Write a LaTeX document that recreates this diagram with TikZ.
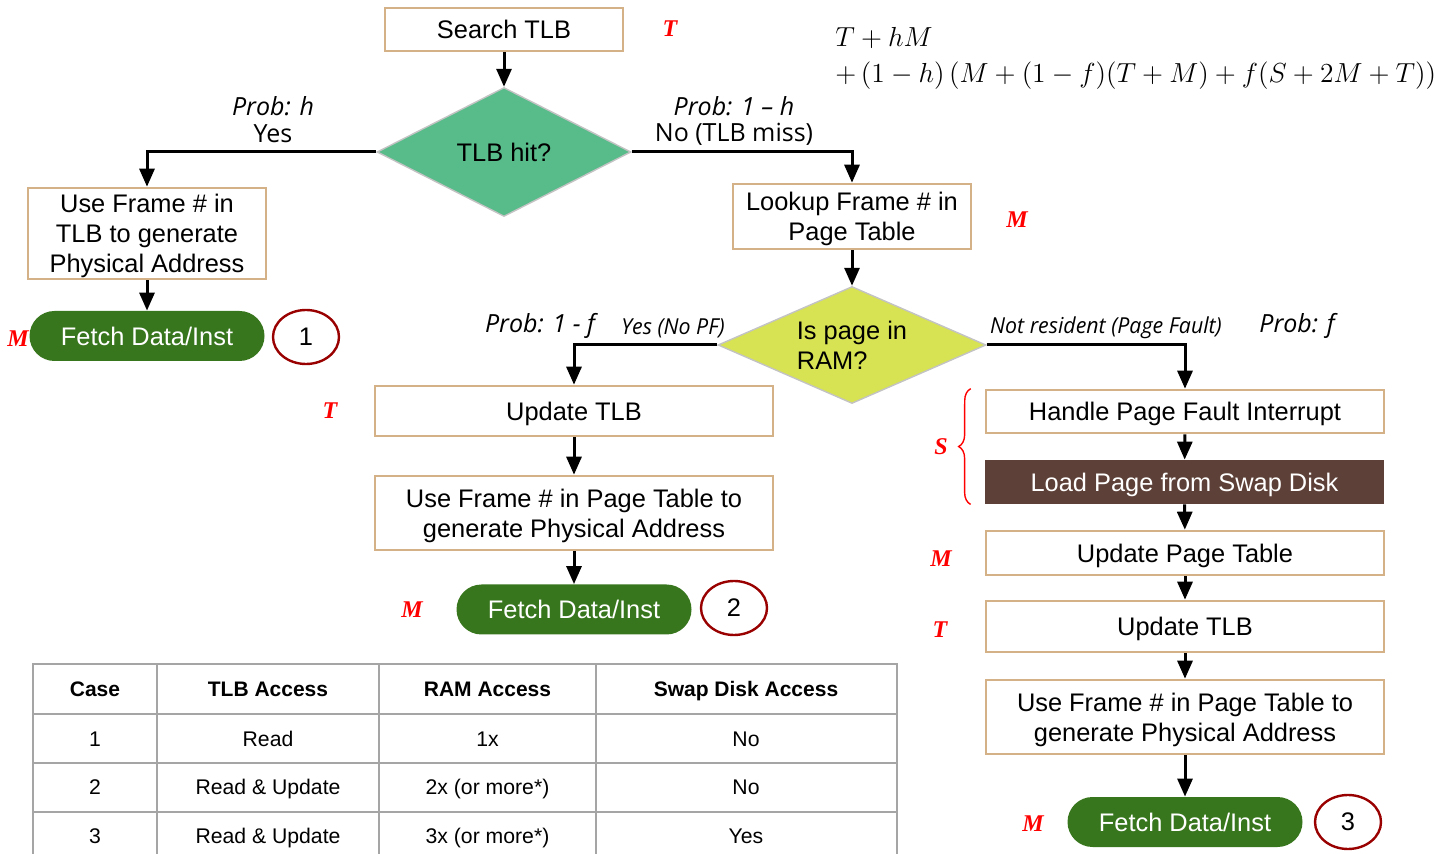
\documentclass[tikz,border=0pt]{standalone}
\usepackage{graphicx}
\usepackage[no-math]{fontspec}
\setmainfont{Liberation Sans}
\newfontfamily\osans{Open Sans}
\newfontfamily\osanscond[FakeStretch=0.97]{Open Sans}
\newfontfamily\tser{Liberation Serif}
\usetikzlibrary{shapes.geometric,arrows.meta,decorations.pathreplacing}
\definecolor{tanc}{RGB}{212,177,134}
\definecolor{hitgreen}{RGB}{87,187,138}
\definecolor{ramyellow}{RGB}{215,227,82}
\definecolor{fetchgreen}{RGB}{56,118,29}
\definecolor{diskbrown}{RGB}{93,64,55}
\definecolor{casered}{RGB}{153,0,0}
\definecolor{tblgray}{RGB}{165,165,165}
\definecolor{dgray}{RGB}{195,195,195}
\begin{document}
\begin{tikzpicture}[x=0.5pt,y=-0.5pt,
  box/.style={draw=tanc, line width=1.3pt, fill=white, inner sep=0pt, align=center, text depth=0pt, font=\fontsize{12.7}{15}\selectfont},
  fetch/.style={fill=fetchgreen, text=white, rounded corners=12.5pt, minimum width=117.5pt, minimum height=25pt, inner sep=0pt, text depth=0pt, font=\fontsize{12.7}{15}\selectfont},
  casecirc/.style={ellipse, draw=casered, line width=1.2pt, minimum width=33pt, minimum height=27pt, inner sep=0pt, font=\fontsize{12.7}{15}\selectfont},
  decision/.style={diamond, draw=dgray, line width=0.7pt, inner sep=0pt, aspect=2, font=\fontsize{12.7}{15}\selectfont},
  conn/.style={line width=1.5pt, -{Triangle[length=9pt,width=7.5pt]}},
  cost/.style={text=red, font=\tser\bfseries\itshape\fontsize{12}{14}\selectfont},
  prob/.style={font=\osans\itshape\fontsize{12.5}{15}\selectfont},
  ans/.style={font=\osans\fontsize{12.5}{15}\selectfont},
  smalllbl/.style={font=\osanscond\itshape\fontsize{11}{13}\selectfont},
  thead/.style={text depth=0pt, font=\bfseries\fontsize{10.5}{12}\selectfont},
  tcell/.style={text depth=0pt, font=\fontsize{10.6}{12}\selectfont}
]
\useasboundingbox (0,0) rectangle (1456,854);

% top
\node[box, minimum width=119pt, minimum height=21.5pt] (search) at (504,29.5) {Search TLB};
\node[cost] (cT1) at (670,29) {T};
\node[anchor=west, inner sep=0pt, font=\fontsize{12}{15.7}\selectfont] (formula) at (835,57) {\scalebox{1.147}{\begin{tabular}{@{}l@{}}$T+hM$\\$+\,(1-h)\,(M+(1-f)(T+M)+f(S+2M+T))$\end{tabular}}};

\node[decision, fill=hitgreen, minimum width=127pt, minimum height=64.5pt] (hit) at (504,152) {TLB hit?};

% left branch
\node[box, minimum width=119pt, minimum height=45.5pt] (useTLB) at (147,233.5) {Use Frame \# in\\TLB to generate\\Physical Address};
\node[cost] (cM1) at (18,339) {M};
\node[fetch] (f1) at (147,336) {Fetch Data/Inst};
\node[casecirc] (c1) at (306,337) {1};

% right branch
\node[box, minimum width=119pt, minimum height=32.5pt] (lookup) at (852,216.5) {Lookup Frame \# in\\Page Table};
\node[cost] (cM2) at (1017,220) {M};
\node[decision, fill=ramyellow, minimum width=134pt, minimum height=58.5pt, align=left] (ram) at (852,345) {Is page in\\RAM?};

% middle column
\node[box, minimum width=199pt, minimum height=25pt] (updTLB2) at (574,411) {Update TLB};
\node[cost] (cT2) at (330,411) {T};
\node[box, minimum width=199pt, minimum height=37pt] (usePT2) at (574,513) {Use Frame \# in Page Table to\\generate Physical Address};
\node[fetch] (f2) at (574,609.5) {Fetch Data/Inst};
\node[casecirc] (c2) at (734,608) {2};
\node[cost] (cM3) at (412,610) {M};

% right column
\node[box, minimum width=199pt, minimum height=21.5pt] (handle) at (1185,411.5) {Handle Page Fault Interrupt};
\node[fill=diskbrown, text=white, minimum width=199.5pt, minimum height=22pt, inner sep=0pt, text depth=0pt, font=\fontsize{12.7}{15}\selectfont] (load) at (1184.5,482) {Load Page from Swap Disk};
\node[box, minimum width=199pt, minimum height=22pt] (updPT) at (1185,553) {Update Page Table};
\node[box, minimum width=199pt, minimum height=25.5pt] (updTLB3) at (1185,626.5) {Update TLB};
\node[box, minimum width=199pt, minimum height=37pt] (usePT3) at (1185,717) {Use Frame \# in Page Table to\\generate Physical Address};
\node[fetch] (f3) at (1185,822) {Fetch Data/Inst};
\node[casecirc] (c3) at (1348,822) {3};
\node[cost] (cS) at (941,447) {S};
\node[cost] (cM4) at (941,559) {M};
\node[cost] (cT3) at (940,630) {T};
\node[cost] (cM5) at (1033,824) {M};

\draw[red, line width=0.7pt, decorate, decoration={brace, amplitude=6pt}] ([xshift=-7pt]load.south west) -- ([xshift=-7pt]handle.north west);

% branch labels
\node[prob] (lph) at (273,106) {Prob: h};
\node[ans] (lyes) at (273,134) {Yes};
\node[prob] (lp1h) at (734,106) {Prob: 1 – h};
\node[ans] (lno) at (734,134) {No (TLB miss)};
\node[prob] (lp1f) at (540,326) {Prob: 1 - f};
\node[smalllbl] (lnopf) at (673,328) {Yes (No PF)};
\node[smalllbl] (lpf) at (1106,328) {Not resident (Page Fault)};
\node[prob] (lpf2) at (1297,326) {Prob: f};

% connectors
\draw[conn] (search) -- (hit);
\draw[conn] (hit.west) -| (useTLB.north);
\draw[conn] (hit.east) -| (lookup.north);
\draw[conn] (useTLB) -- (f1);
\draw[conn] (lookup) -- (ram);
\draw[conn] (ram.west) -| (updTLB2.north);
\draw[conn] (ram.east) -| (handle.north);
\draw[conn] (updTLB2) -- (usePT2);
\draw[conn] (usePT2) -- (f2);
\draw[conn] (handle) -- (load);
\draw[conn] (load) -- (updPT);
\draw[conn] (updPT) -- (updTLB3);
\draw[conn] (updTLB3) -- (usePT3);
\draw[conn] (usePT3) -- (f3);

% table
\draw[tblgray, line width=0.7pt] (33,854) -- (33,664) -- (897,664) -- (897,854);
\foreach \x in {157,379,596} \draw[tblgray, line width=0.7pt] (\x,664) -- (\x,854);
\foreach \y in {714,763,812} \draw[tblgray, line width=0.7pt] (33,\y) -- (897,\y);
\node[thead] (h1) at (95,689) {Case};
\node[thead] (h2) at (268,689) {TLB Access};
\node[thead] (h3) at (487.5,689) {RAM Access};
\node[thead] (h4) at (746,689) {Swap Disk Access};
\node[tcell] (r11) at (95,739) {1};
\node[tcell] (r12) at (268,739) {Read};
\node[tcell] (r13) at (487.5,739) {1x};
\node[tcell] (r14) at (746,739) {No};
\node[tcell] (r21) at (95,787) {2};
\node[tcell] (r22) at (268,787) {Read \& Update};
\node[tcell] (r23) at (487.5,787) {2x (or more*)};
\node[tcell] (r24) at (746,787) {No};
\node[tcell] (r31) at (95,836) {3};
\node[tcell] (r32) at (268,836) {Read \& Update};
\node[tcell] (r33) at (487.5,836) {3x (or more*)};
\node[tcell] (r34) at (746,836) {Yes};
\end{tikzpicture}
\end{document}
